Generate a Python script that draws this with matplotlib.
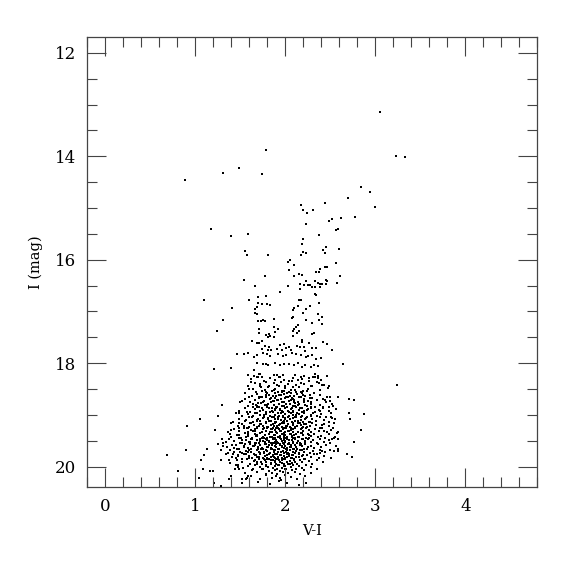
import matplotlib
matplotlib.use("Agg")
import matplotlib.pyplot as plt
from matplotlib.ticker import MultipleLocator


# ============================================================
# DATA  (V-I colour, I magnitude)
# ============================================================

# bright isolated stars
bright_vi = [3.05, 3.23, 3.33, 1.78, 0.89, 1.31, 1.49, 1.74]
bright_i = [13.15, 14.00, 14.02, 13.87, 14.46, 14.32, 14.22, 14.35]

# upper giant branch / AGB / HB region (I < 18.3)
rgb_vi = [
    2.84, 2.94, 3.00, 2.70, 2.44, 2.17, 2.20, 2.24, 2.31, 2.77,
    2.62, 2.52, 2.49, 2.23, 2.58, 2.56, 2.37, 2.20, 2.19, 2.20,
    2.23, 2.17, 2.45, 2.42, 2.44, 2.60, 2.56, 2.44, 2.46, 2.38,
    2.10, 2.05, 2.03, 2.04, 1.17, 1.40, 1.58, 1.55, 1.57, 1.81,
    2.34, 2.37, 1.77, 2.10, 2.15, 2.19, 2.61, 1.54, 2.23, 2.33,
    2.36, 2.38, 2.41, 2.45, 2.46, 2.45, 2.57, 1.66, 2.03, 2.16,
    2.16, 2.21, 2.25, 2.27, 2.30, 2.33, 2.38, 1.94, 2.33, 2.34,
    1.10, 1.70, 1.79, 1.60, 2.15, 2.17, 2.37, 1.70, 1.74, 1.80,
    1.83, 1.68, 2.14, 2.10, 2.27, 1.41, 1.66, 1.66, 1.69, 2.09,
    2.23, 2.20, 2.36, 2.09, 2.07, 2.41, 2.23, 1.31, 1.73, 1.75,
    1.77, 1.87, 1.70, 2.30, 2.37, 2.41, 2.14, 2.12, 2.10, 1.24,
    1.71, 1.71, 1.87, 1.92, 1.89, 2.08, 2.15, 2.13, 2.30, 2.32,
    1.79, 1.82, 1.83, 1.87, 1.81, 2.09, 1.63, 1.69, 1.71, 1.74,
    2.19, 2.18, 2.26, 2.42, 2.46, 1.77, 1.82, 1.94, 1.99, 2.04,
    2.13, 2.16, 1.74, 1.81, 1.84, 1.91, 1.96, 2.01, 2.06, 2.21,
    2.22, 2.30, 2.34, 2.52, 1.46, 1.54, 1.59, 1.65, 1.69, 1.75,
    1.80, 1.83, 1.92, 1.97, 2.01, 2.07, 2.12, 2.17, 2.23, 2.25,
    2.30, 2.34, 2.40, 2.64, 1.21, 1.40, 1.68, 1.75, 1.79, 1.81,
    1.89, 1.94, 1.98, 2.04, 2.10, 2.14, 2.18, 2.22, 2.28, 2.32,
    2.36, 1.58, 1.65, 1.71, 1.74, 1.87, 1.91, 1.94, 1.97, 2.11,
    2.17, 2.21, 2.26, 2.31, 2.36, 2.46,
]
rgb_i = [
    14.60, 14.70, 14.98, 14.80, 14.91, 14.95, 15.04, 15.10, 15.04, 15.18,
    15.19, 15.22, 15.26, 15.30, 15.41, 15.43, 15.53, 15.59, 15.69, 15.86,
    15.87, 15.91, 15.76, 15.81, 15.87, 15.80, 16.07, 16.14, 16.14, 16.18,
    16.11, 16.01, 16.04, 16.19, 15.40, 15.55, 15.51, 15.84, 15.91, 15.91,
    16.23, 16.24, 16.31, 16.31, 16.27, 16.29, 16.31, 16.39, 16.42, 16.42,
    16.45, 16.47, 16.47, 16.47, 16.42, 16.39, 16.45, 16.50, 16.50, 16.47,
    16.57, 16.49, 16.49, 16.49, 16.53, 16.53, 16.53, 16.63, 16.66, 16.68,
    16.77, 16.72, 16.70, 16.77, 16.78, 16.78, 16.84, 16.84, 16.85, 16.85,
    16.87, 16.91, 16.89, 16.93, 16.90, 16.93, 16.96, 17.03, 17.05, 16.98,
    16.96, 17.03, 17.05, 17.11, 17.12, 17.11, 17.16, 17.16, 17.18, 17.16,
    17.18, 17.14, 17.19, 17.22, 17.16, 17.24, 17.27, 17.30, 17.34, 17.37,
    17.34, 17.42, 17.30, 17.34, 17.39, 17.37, 17.38, 17.41, 17.44, 17.42,
    17.45, 17.43, 17.47, 17.50, 17.50, 17.47, 17.58, 17.61, 17.61, 17.58,
    17.55, 17.59, 17.61, 17.60, 17.62, 17.66, 17.69, 17.64, 17.63, 17.68,
    17.67, 17.69, 17.73, 17.74, 17.75, 17.73, 17.74, 17.71, 17.74, 17.69,
    17.76, 17.71, 17.70, 17.75, 17.83, 17.82, 17.80, 17.89, 17.84, 17.81,
    17.83, 17.87, 17.83, 17.87, 17.85, 17.81, 17.83, 17.85, 17.89, 17.87,
    17.85, 17.91, 17.90, 18.01, 18.12, 18.10, 18.00, 18.02, 18.01, 18.04,
    17.99, 18.03, 18.01, 18.02, 18.03, 18.00, 18.07, 18.03, 18.08, 18.04,
    18.06, 18.22, 18.14, 18.20, 18.27, 18.23, 18.22, 18.27, 18.22, 18.22,
    18.27, 18.24, 18.28, 18.26, 18.25, 18.25,
]

# sparse stars on both sides of the main blob
wing_vi = [
    1.30, 1.05, 0.91, 1.25, 1.48, 1.55, 1.57, 1.22, 1.40, 1.30,
    1.31, 1.37, 0.69, 0.90, 1.13, 1.10, 1.06, 0.81, 1.08, 1.16,
    1.20, 1.04, 1.21, 1.28, 1.29, 1.28, 1.34, 1.37, 1.31, 1.40,
    1.37, 1.47, 1.49, 1.44, 1.47, 1.52, 1.57, 1.52, 1.45, 1.47,
    1.50, 1.54, 1.43, 1.45, 1.50, 1.52, 1.48, 1.49, 1.54, 1.49,
    1.59, 1.56, 1.67, 1.61, 1.64, 1.71, 1.67, 1.64, 1.72, 1.62,
    1.69, 1.65, 1.72, 1.29,
    3.24, 2.49, 2.58, 2.71, 2.76, 2.87, 2.71, 2.72, 2.84, 2.76,
    2.58, 2.52, 2.59, 2.53, 2.43, 2.41, 2.54, 2.58, 2.68, 2.74,
    2.41, 2.38, 2.50, 2.52, 2.48, 2.44, 2.42, 2.38, 2.51, 2.52,
    2.37, 2.41, 2.36, 2.33, 2.23, 1.58, 1.56, 1.94,
]
wing_i = [
    18.81, 19.08, 19.21, 19.03, 18.97, 18.69, 18.94, 19.30, 19.30, 19.47,
    19.55, 19.46, 19.77, 19.68, 19.66, 19.78, 19.88, 20.09, 20.04, 20.08,
    20.08, 20.22, 20.31, 20.37, 19.68, 19.87, 19.76, 19.87, 19.60, 20.18,
    20.24, 20.01, 20.04, 20.05, 19.96, 20.23, 20.22, 20.31, 19.84, 19.80,
    19.71, 19.75, 19.64, 19.58, 19.54, 19.48, 19.38, 19.25, 19.21, 19.16,
    19.26, 19.10, 18.80, 18.75, 18.84, 18.66, 18.55, 18.50, 18.45, 18.36,
    18.27, 18.24, 18.20, 20.39,
    18.42, 18.45, 18.66, 18.69, 18.72, 18.98, 18.96, 19.08, 19.30, 19.53,
    19.46, 19.46, 19.33, 19.26, 19.32, 19.20, 19.70, 19.70, 19.75, 19.82,
    19.69, 19.73, 18.74, 18.79, 18.85, 18.72, 18.87, 18.92, 19.04, 19.06,
    18.38, 18.42, 18.29, 18.20, 20.32, 20.18, 20.24, 20.22,
]

# main blob (lower giant branch / subgiants), one line per ~0.1 mag
core_vi = [
    1.62, 1.70, 1.76, 1.83, 1.88, 1.93, 1.99, 2.04, 2.08, 2.14, 2.19, 2.26, 2.33, 2.40,
    1.58, 1.66, 1.72, 1.78, 1.82, 1.87, 1.91, 1.95, 2.00, 2.03, 2.07, 2.12, 2.17, 2.21, 2.28, 2.35, 2.43,
    1.60, 1.67, 1.73, 1.77, 1.81, 1.85, 1.89, 1.93, 1.96, 2.00, 2.04, 2.08, 2.11, 2.15, 2.20, 2.25, 2.30, 2.38, 2.47,
    1.55, 1.63, 1.69, 1.74, 1.78, 1.82, 1.86, 1.89, 1.93, 1.96, 1.99, 2.03, 2.06, 2.10, 2.13, 2.17, 2.22, 2.27, 2.32, 2.39, 2.46,
    1.52, 1.60, 1.66, 1.71, 1.75, 1.79, 1.83, 1.86, 1.89, 1.92, 1.95, 1.98, 2.01, 2.04, 2.07, 2.10, 2.14, 2.17, 2.21, 2.25, 2.30, 2.35, 2.42, 2.50,
    1.50, 1.58, 1.64, 1.69, 1.73, 1.77, 1.80, 1.84, 1.87, 1.90, 1.93, 1.96, 1.99, 2.02, 2.05, 2.08, 2.11, 2.14, 2.17, 2.21, 2.24, 2.28, 2.33, 2.38, 2.45, 2.53,
    1.48, 1.55, 1.61, 1.66, 1.71, 1.75, 1.78, 1.82, 1.85, 1.88, 1.91, 1.94, 1.97, 2.00, 2.03, 2.06, 2.09, 2.12, 2.15, 2.18, 2.21, 2.25, 2.29, 2.33, 2.37, 2.42, 2.48, 2.56,
    1.45, 1.52, 1.58, 1.63, 1.68, 1.72, 1.76, 1.79, 1.83, 1.86, 1.89, 1.92, 1.95, 1.97, 2.00, 2.03, 2.06, 2.09, 2.12, 2.15, 2.18, 2.21, 2.24, 2.28, 2.31, 2.35, 2.40, 2.45, 2.51,
    1.42, 1.49, 1.55, 1.60, 1.64, 1.68, 1.72, 1.75, 1.78, 1.81, 1.84, 1.87, 1.90, 1.92, 1.95, 1.97, 2.00, 2.02, 2.05, 2.08, 2.11, 2.14, 2.17, 2.20, 2.23, 2.26, 2.30, 2.34, 2.38, 2.43, 2.48, 2.55,
    1.40, 1.47, 1.52, 1.57, 1.61, 1.65, 1.69, 1.72, 1.75, 1.78, 1.81, 1.84, 1.86, 1.89, 1.91, 1.94, 1.96, 1.98, 2.01, 2.03, 2.06, 2.08, 2.11, 2.14, 2.17, 2.20, 2.23, 2.27, 2.30, 2.34, 2.38, 2.43, 2.48, 2.54,
    1.36, 1.43, 1.49, 1.54, 1.58, 1.62, 1.66, 1.69, 1.72, 1.75, 1.78, 1.80, 1.83, 1.85, 1.88, 1.90, 1.92, 1.95, 1.97, 1.99, 2.01, 2.04, 2.06, 2.09, 2.11, 2.14, 2.17, 2.20, 2.23, 2.26, 2.29, 2.33, 2.37, 2.41, 2.46, 2.51, 2.57,
    1.38, 1.40, 1.46, 1.51, 1.55, 1.59, 1.63, 1.66, 1.69, 1.72, 1.75, 1.77, 1.80, 1.82, 1.85, 1.87, 1.89, 1.91, 1.94, 1.96, 1.98, 2.00, 2.02, 2.05, 2.07, 2.09, 2.12, 2.14, 2.17, 2.20, 2.23, 2.26, 2.29, 2.32, 2.36, 2.40, 2.44, 2.49, 2.55,
    1.34, 1.37, 1.43, 1.48, 1.52, 1.56, 1.60, 1.63, 1.66, 1.69, 1.72, 1.74, 1.77, 1.79, 1.82, 1.84, 1.86, 1.88, 1.90, 1.92, 1.94, 1.96, 1.98, 2.00, 2.02, 2.04, 2.07, 2.09, 2.11, 2.14, 2.16, 2.19, 2.22, 2.25, 2.28, 2.31, 2.35, 2.39, 2.43, 2.48, 2.54,
    1.25, 1.35, 1.41, 1.46, 1.50, 1.54, 1.58, 1.61, 1.64, 1.67, 1.70, 1.72, 1.75, 1.77, 1.80, 1.82, 1.84, 1.86, 1.88, 1.90, 1.92, 1.94, 1.96, 1.98, 2.00, 2.02, 2.04, 2.06, 2.09, 2.11, 2.13, 2.16, 2.19, 2.22, 2.25, 2.28, 2.32, 2.36, 2.40, 2.45, 2.50, 2.56,
    1.36, 1.39, 1.43, 1.48, 1.52, 1.56, 1.59, 1.62, 1.65, 1.68, 1.71, 1.73, 1.76, 1.78, 1.80, 1.83, 1.85, 1.87, 1.89, 1.91, 1.93, 1.95, 1.97, 1.99, 2.01, 2.03, 2.05, 2.08, 2.10, 2.12, 2.15, 2.18, 2.21, 2.24, 2.27, 2.31, 2.35, 2.39, 2.44, 2.50, 2.58,
    1.42, 1.41, 1.47, 1.52, 1.56, 1.60, 1.63, 1.66, 1.69, 1.72, 1.75, 1.77, 1.80, 1.82, 1.84, 1.86, 1.88, 1.90, 1.92, 1.94, 1.96, 1.98, 2.00, 2.02, 2.04, 2.07, 2.09, 2.12, 2.15, 2.18, 2.21, 2.24, 2.28, 2.32, 2.37, 2.43, 2.51,
    1.38, 1.46, 1.52, 1.57, 1.61, 1.65, 1.68, 1.71, 1.74, 1.77, 1.79, 1.82, 1.84, 1.86, 1.88, 1.90, 1.92, 1.94, 1.96, 1.98, 2.00, 2.02, 2.05, 2.07, 2.10, 2.13, 2.16, 2.19, 2.22, 2.26, 2.30, 2.35, 2.42,
    1.45, 1.53, 1.59, 1.64, 1.68, 1.72, 1.75, 1.78, 1.81, 1.84, 1.86, 1.89, 1.91, 1.93, 1.96, 1.98, 2.01, 2.03, 2.06, 2.09, 2.12, 2.15, 2.19, 2.23, 2.28, 2.35,
    1.55, 1.63, 1.69, 1.74, 1.78, 1.82, 1.85, 1.88, 1.91, 1.94, 1.97, 2.00, 2.03, 2.07, 2.11, 2.16, 2.21, 2.28,
    1.62, 1.72, 1.79, 1.85, 1.90, 1.95, 2.00, 2.06, 2.13, 2.22,
    1.70, 1.83, 1.93, 2.02, 2.15,
]
core_i = [
    18.31, 18.27, 18.34, 18.29, 18.33, 18.26, 18.32, 18.35, 18.28, 18.33, 18.30, 18.34, 18.27, 18.32,
    18.44, 18.38, 18.41, 18.36, 18.45, 18.39, 18.42, 18.37, 18.44, 18.40, 18.35, 18.43, 18.38, 18.41, 18.45, 18.36, 18.42,
    18.49, 18.55, 18.46, 18.52, 18.47, 18.54, 18.50, 18.45, 18.53, 18.48, 18.55, 18.46, 18.51, 18.47, 18.54, 18.49, 18.45, 18.52, 18.48,
    18.57, 18.63, 18.59, 18.65, 18.56, 18.61, 18.64, 18.58, 18.62, 18.55, 18.60, 18.65, 18.57, 18.63, 18.59, 18.56, 18.64, 18.61, 18.58, 18.62, 18.65,
    18.73, 18.66, 18.71, 18.68, 18.75, 18.65, 18.70, 18.74, 18.67, 18.72, 18.69, 18.76, 18.66, 18.73, 18.68, 18.71, 18.75, 18.65, 18.69, 18.74, 18.67, 18.72, 18.70, 18.66,
    18.76, 18.83, 18.79, 18.85, 18.77, 18.81, 18.84, 18.75, 18.80, 18.86, 18.78, 18.82, 18.76, 18.85, 18.79, 18.83, 18.77, 18.81, 18.86, 18.75, 18.82, 18.78, 18.84, 18.80, 18.76, 18.83,
    18.92, 18.86, 18.94, 18.89, 18.85, 18.91, 18.95, 18.87, 18.93, 18.88, 18.84, 18.90, 18.94, 18.86, 18.92, 18.89, 18.95, 18.85, 18.91, 18.87, 18.93, 18.88, 18.86, 18.94, 18.90, 18.85, 18.92, 18.89,
    18.97, 19.03, 18.99, 19.05, 18.96, 19.01, 19.04, 18.98, 19.02, 18.95, 19.00, 19.05, 18.97, 19.03, 18.99, 19.04, 18.96, 19.01, 19.05, 18.98, 19.02, 18.96, 19.04, 19.00, 18.97, 19.03, 18.99, 19.05, 18.96,
    19.13, 19.07, 19.11, 19.05, 19.14, 19.09, 19.12, 19.06, 19.15, 19.08, 19.11, 19.05, 19.13, 19.07, 19.10, 19.14, 19.06, 19.12, 19.08, 19.15, 19.05, 19.11, 19.09, 19.13, 19.06, 19.14, 19.08, 19.12, 19.05, 19.10, 19.14, 19.07,
    19.16, 19.22, 19.18, 19.25, 19.15, 19.20, 19.24, 19.17, 19.21, 19.15, 19.23, 19.19, 19.25, 19.16, 19.22, 19.18, 19.24, 19.15, 19.21, 19.17, 19.25, 19.19, 19.23, 19.16, 19.20, 19.24, 19.17, 19.22, 19.15, 19.19, 19.25, 19.18, 19.21, 19.16,
    19.33, 19.27, 19.31, 19.25, 19.34, 19.29, 19.32, 19.26, 19.35, 19.28, 19.31, 19.25, 19.33, 19.27, 19.30, 19.34, 19.26, 19.32, 19.28, 19.35, 19.25, 19.31, 19.29, 19.33, 19.26, 19.34, 19.28, 19.32, 19.25, 19.30, 19.34, 19.27, 19.31, 19.26, 19.33, 19.29, 19.35,
    19.36, 19.42, 19.38, 19.45, 19.35, 19.40, 19.44, 19.37, 19.41, 19.35, 19.43, 19.39, 19.45, 19.36, 19.42, 19.38, 19.44, 19.35, 19.41, 19.37, 19.45, 19.39, 19.43, 19.36, 19.40, 19.44, 19.37, 19.42, 19.35, 19.39, 19.45, 19.38, 19.41, 19.36, 19.43, 19.40, 19.44, 19.37, 19.42,
    19.53, 19.47, 19.51, 19.45, 19.54, 19.49, 19.52, 19.46, 19.55, 19.48, 19.51, 19.45, 19.53, 19.47, 19.50, 19.54, 19.46, 19.52, 19.48, 19.55, 19.45, 19.51, 19.49, 19.53, 19.46, 19.54, 19.48, 19.52, 19.45, 19.50, 19.54, 19.47, 19.51, 19.46, 19.53, 19.49, 19.55, 19.47, 19.52, 19.48, 19.45,
    19.56, 19.62, 19.58, 19.65, 19.55, 19.60, 19.64, 19.57, 19.61, 19.55, 19.63, 19.59, 19.65, 19.56, 19.62, 19.58, 19.64, 19.55, 19.61, 19.57, 19.65, 19.59, 19.63, 19.56, 19.60, 19.64, 19.57, 19.62, 19.55, 19.59, 19.65, 19.58, 19.61, 19.56, 19.63, 19.60, 19.64, 19.57, 19.62, 19.58, 19.55, 19.61,
    19.73, 19.67, 19.71, 19.65, 19.74, 19.69, 19.72, 19.66, 19.75, 19.68, 19.71, 19.65, 19.73, 19.67, 19.70, 19.74, 19.66, 19.72, 19.68, 19.75, 19.65, 19.71, 19.69, 19.73, 19.66, 19.74, 19.68, 19.72, 19.65, 19.70, 19.74, 19.67, 19.71, 19.66, 19.73, 19.69, 19.75, 19.67, 19.72, 19.68, 19.65,
    19.76, 19.82, 19.78, 19.85, 19.75, 19.80, 19.84, 19.77, 19.81, 19.75, 19.83, 19.79, 19.85, 19.76, 19.82, 19.78, 19.84, 19.75, 19.81, 19.77, 19.85, 19.79, 19.83, 19.76, 19.80, 19.84, 19.77, 19.82, 19.75, 19.79, 19.85, 19.78, 19.81, 19.76, 19.83, 19.80, 19.84,
    19.93, 19.87, 19.91, 19.85, 19.94, 19.89, 19.92, 19.86, 19.95, 19.88, 19.91, 19.85, 19.93, 19.87, 19.90, 19.94, 19.86, 19.92, 19.88, 19.95, 19.85, 19.91, 19.89, 19.93, 19.86, 19.94, 19.88, 19.92, 19.85, 19.90, 19.94, 19.87, 19.91,
    19.96, 20.02, 19.98, 20.05, 19.95, 20.00, 20.04, 19.97, 20.01, 19.95, 20.03, 19.99, 20.05, 19.96, 20.02, 19.98, 20.04, 19.95, 20.01, 19.97, 20.05, 19.99, 20.03, 19.96, 20.00, 20.04,
    20.13, 20.07, 20.11, 20.05, 20.14, 20.09, 20.12, 20.06, 20.15, 20.08, 20.11, 20.05, 20.13, 20.07, 20.10, 20.14, 20.06, 20.12,
    20.18, 20.23, 20.16, 20.22, 20.19, 20.25, 20.17, 20.21, 20.24, 20.18,
    20.29, 20.33, 20.27, 20.31, 20.35,
]

# extra stars filling the densest part of the blob
dense_vi = [
    1.74, 1.80, 1.87, 1.92, 1.98, 2.02, 2.06, 2.12, 2.18, 2.24,
    1.72, 1.78, 1.84, 1.90, 1.95, 2.00, 2.05, 2.09, 2.15, 2.20, 2.27,
    1.70, 1.76, 1.81, 1.87, 1.91, 1.96, 2.01, 2.06, 2.10, 2.15, 2.21, 2.28,
    1.68, 1.74, 1.80, 1.85, 1.90, 1.94, 1.98, 2.02, 2.07, 2.11, 2.16, 2.22, 2.29,
    1.66, 1.72, 1.78, 1.83, 1.88, 1.92, 1.96, 2.00, 2.04, 2.08, 2.13, 2.18, 2.24, 2.31,
    1.64, 1.70, 1.76, 1.81, 1.85, 1.89, 1.93, 1.97, 2.00, 2.04, 2.08, 2.12, 2.17, 2.22, 2.28,
    1.62, 1.68, 1.73, 1.78, 1.82, 1.86, 1.89, 1.93, 1.96, 1.99, 2.03, 2.07, 2.11, 2.16, 2.21, 2.27,
    1.60, 1.66, 1.71, 1.76, 1.80, 1.84, 1.87, 1.90, 1.93, 1.96, 1.99, 2.02, 2.05, 2.09, 2.13, 2.18, 2.24,
    1.58, 1.64, 1.69, 1.74, 1.78, 1.82, 1.85, 1.88, 1.91, 1.94, 1.97, 2.00, 2.03, 2.06, 2.10, 2.14, 2.19, 2.25,
    1.56, 1.62, 1.67, 1.72, 1.76, 1.80, 1.83, 1.86, 1.89, 1.92, 1.95, 1.98, 2.01, 2.04, 2.07, 2.11, 2.15, 2.20, 2.26,
    1.55, 1.61, 1.66, 1.71, 1.75, 1.79, 1.82, 1.85, 1.88, 1.91, 1.94, 1.97, 2.00, 2.03, 2.06, 2.09, 2.13, 2.17, 2.22,
    1.54, 1.60, 1.65, 1.70, 1.74, 1.78, 1.81, 1.84, 1.87, 1.90, 1.93, 1.96, 1.99, 2.02, 2.05, 2.08, 2.12, 2.16, 2.21,
    1.56, 1.62, 1.67, 1.72, 1.76, 1.80, 1.83, 1.86, 1.89, 1.92, 1.95, 1.98, 2.01, 2.04, 2.07, 2.11, 2.15, 2.20,
    1.60, 1.66, 1.71, 1.76, 1.80, 1.84, 1.87, 1.90, 1.93, 1.96, 1.99, 2.02, 2.06, 2.10, 2.15,
    1.66, 1.73, 1.79, 1.84, 1.88, 1.92, 1.96, 2.00, 2.05, 2.11,
]
dense_i = [
    18.53, 18.57, 18.51, 18.56, 18.54, 18.58, 18.52, 18.55, 18.57, 18.53,
    18.66, 18.62, 18.68, 18.64, 18.61, 18.67, 18.63, 18.69, 18.65, 18.62, 18.67,
    18.77, 18.73, 18.79, 18.74, 18.71, 18.76, 18.78, 18.72, 18.75, 18.79, 18.73, 18.76,
    18.83, 18.87, 18.81, 18.86, 18.84, 18.88, 18.82, 18.85, 18.87, 18.83, 18.86, 18.81, 18.84,
    18.96, 18.92, 18.98, 18.94, 18.91, 18.97, 18.93, 18.99, 18.95, 18.92, 18.97, 18.94, 18.91, 18.96,
    19.03, 19.07, 19.01, 19.06, 19.04, 19.08, 19.02, 19.05, 19.07, 19.03, 19.06, 19.01, 19.04, 19.08, 19.02,
    19.16, 19.12, 19.18, 19.14, 19.11, 19.17, 19.13, 19.19, 19.15, 19.12, 19.17, 19.14, 19.11, 19.16, 19.18, 19.13,
    19.23, 19.27, 19.21, 19.26, 19.24, 19.28, 19.22, 19.25, 19.27, 19.23, 19.26, 19.21, 19.24, 19.28, 19.22, 19.26, 19.23,
    19.36, 19.32, 19.38, 19.34, 19.31, 19.37, 19.33, 19.39, 19.35, 19.32, 19.37, 19.34, 19.31, 19.36, 19.38, 19.33, 19.35, 19.37,
    19.43, 19.47, 19.41, 19.46, 19.44, 19.48, 19.42, 19.45, 19.47, 19.43, 19.46, 19.41, 19.44, 19.48, 19.42, 19.46, 19.43, 19.47, 19.45,
    19.56, 19.52, 19.58, 19.54, 19.51, 19.57, 19.53, 19.59, 19.55, 19.52, 19.57, 19.54, 19.51, 19.56, 19.58, 19.53, 19.55, 19.57, 19.52,
    19.63, 19.67, 19.61, 19.66, 19.64, 19.68, 19.62, 19.65, 19.67, 19.63, 19.66, 19.61, 19.64, 19.68, 19.62, 19.66, 19.63, 19.67, 19.65,
    19.76, 19.72, 19.78, 19.74, 19.71, 19.77, 19.73, 19.79, 19.75, 19.72, 19.77, 19.74, 19.71, 19.76, 19.78, 19.73, 19.75, 19.77,
    19.83, 19.87, 19.81, 19.86, 19.84, 19.88, 19.82, 19.85, 19.87, 19.83, 19.86, 19.81, 19.84, 19.88, 19.82,
    19.96, 19.92, 19.98, 19.94, 19.91, 19.97, 19.93, 19.99, 19.95, 19.92,
]


# ============================================================
# PLOT
# ============================================================

plt.rcParams["font.family"] = ["DejaVu Serif"]

fig = plt.figure(figsize=(5.75, 5.75), dpi=100)
ax = fig.add_axes([0.152, 0.1525, 0.7826, 0.7826])

for vi, mag in [(bright_vi, bright_i), (rgb_vi, rgb_i), (wing_vi, wing_i),
                (core_vi, core_i), (dense_vi, dense_i)]:
    ax.scatter(vi, mag, s=2.4, marker="s", color="black", linewidths=0)

ax.set_xlim(-0.2, 4.8)
ax.set_ylim(20.4, 11.7)

ax.xaxis.set_major_locator(MultipleLocator(1))
ax.xaxis.set_minor_locator(MultipleLocator(0.2))
ax.yaxis.set_major_locator(MultipleLocator(2))
ax.yaxis.set_minor_locator(MultipleLocator(0.5))

ax.tick_params(which="both", direction="in", top=True, right=True,
               color="#444444", width=0.8, labelsize=12)
ax.tick_params(which="major", length=14, pad=8)
ax.tick_params(which="minor", length=7)

for spine in ax.spines.values():
    spine.set_color("#444444")
    spine.set_linewidth(0.9)

ax.set_xlabel("V-I", fontsize=10.5, labelpad=6)
ax.set_ylabel("I (mag)", fontsize=10.5, labelpad=9)

fig.savefig("out.png", dpi=100)
